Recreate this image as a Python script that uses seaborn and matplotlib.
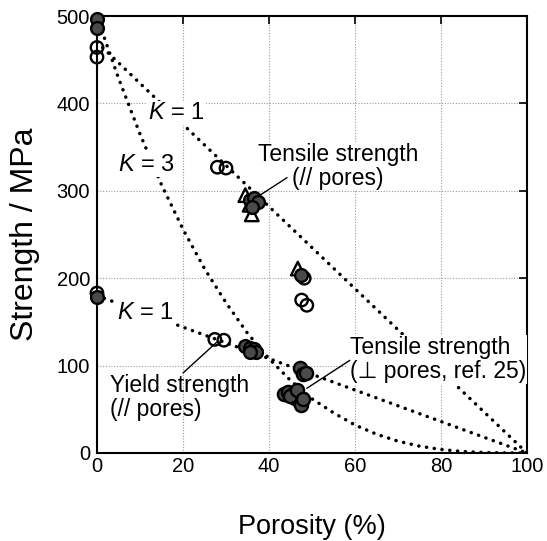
import matplotlib
matplotlib.use("Agg")
import matplotlib.pyplot as plt
import seaborn as sns
import pandas as pd

# ---------------- data ----------------
# model curves
k1_top_x = [0, 100]
k1_top_y = [470, 0]
k1_low_x = [0, 100]
k1_low_y = [180, 0]
k3_x = [0, 2, 5, 10, 15, 20, 25, 30, 35, 40, 45, 50, 55, 60, 65, 70, 75, 80, 85, 90, 95, 100]
k3_y = [500, 471, 429, 365, 307, 256, 211, 172, 137, 108, 83, 62, 46, 32, 21.5, 13.5, 7.8, 4, 1.7, 0.5, 0.1, 0]

# tensile strength, // pores
tp_circ_x = [0, 0, 28, 30, 48.2, 47.6, 48.8]
tp_circ_y = [464, 453, 327, 326, 200, 175, 169]
tp_tri_x = [34.5, 36.0, 35.5, 46.7]
tp_tri_y = [295, 273, 284, 211]
tp_fill_x = [0, 0, 35.5, 36.5, 37.5, 36.0, 47.5]
tp_fill_y = [497, 486, 290, 292, 287, 282, 204]

# yield strength, // pores
ys_circ_x = [0, 27.4, 29.5]
ys_circ_y = [183, 130, 129]
ys_fill_x = [0, 34.5, 35.5, 36.5, 37.0, 35.5]
ys_fill_y = [179, 122, 120, 119, 116, 115]

# tensile strength, perpendicular pores (ref. 25)
tperp_x = [47.2, 48.0, 48.5, 43.5, 44.5, 45.5, 46.0, 47.0, 47.5, 45.0, 46.5, 48.0]
tperp_y = [97, 90, 92, 67, 70, 68, 63, 60, 55, 65, 72, 62]

x_ticks = [0, 20, 40, 60, 80, 100]
y_ticks = [0, 100, 200, 300, 400, 500]

# ---------------- style ----------------
sns.set_theme(style="white")
plt.rcParams['font.family'] = ['Liberation Sans', 'DejaVu Sans']
plt.rcParams['mathtext.fontset'] = 'custom'
plt.rcParams['mathtext.it'] = 'Liberation Sans:italic'
plt.rcParams['mathtext.rm'] = 'Liberation Sans'

fig = plt.figure(figsize=(5.47, 5.41), dpi=100)
ax = fig.add_axes([0.1773, 0.1627, 0.9634 - 0.1773, 0.9704 - 0.1627])

dot = dict(linestyle=(0, (0.05, 2.2)), dash_capstyle='round', linewidth=2.5, color='black')
for xs, ys in [(k1_top_x, k1_top_y), (k1_low_x, k1_low_y), (k3_x, k3_y)]:
    sns.lineplot(x=xs, y=ys, ax=ax, sort=False, estimator=None, zorder=2, **dot)

mk = dict(ax=ax, zorder=5, clip_on=False, legend=False)
def scat(xs, ys, marker, fc, s):
    sns.scatterplot(x=xs, y=ys, marker=marker, s=s, facecolor=fc,
                    edgecolor='black', linewidth=1.7, **mk)
    for c in ax.collections:
        c.set_clip_on(False)

scat(tp_circ_x, tp_circ_y, 'o', 'none', 80)
scat(tp_tri_x, tp_tri_y, '^', 'none', 95)
scat(tp_fill_x, tp_fill_y, 'o', '#4a4a4a', 85)
scat(ys_circ_x, ys_circ_y, 'o', 'none', 80)
scat(ys_fill_x, ys_fill_y, 'o', '#4a4a4a', 85)
scat(tperp_x, tperp_y, 'o', '#4a4a4a', 90)

ax.set_xlim(0, 100)
ax.set_ylim(0, 500)
ax.set_xticks(x_ticks)
ax.set_yticks(y_ticks)
ax.grid(True, linestyle=(0, (1, 1.5)), color='#999999', linewidth=0.8)
ax.set_axisbelow(True)
for sp in ax.spines.values():
    sp.set_visible(True)
    sp.set_color('black')
    sp.set_linewidth(1.5)
ax.tick_params(direction='in', length=6, width=1.2, top=True, right=True,
               labelsize=14.5, colors='black')
ax.tick_params(axis='x', pad=3)
ax.tick_params(axis='y', pad=5)
ax.set_xlabel('Porosity (%)', fontsize=19.5, labelpad=27, color='black')
ax.set_ylabel('Strength / MPa', fontsize=23, labelpad=12, color='black')

box = dict(facecolor='white', edgecolor='none', pad=1.0)
tk = dict(fontsize=17, color='black', va='center', ha='left', zorder=4)
ax.text(11.9, 389, r'$K$ = 1', bbox=box, **tk)
ax.text(4.9, 330, r'$K$ = 3', bbox=box, **tk)
ax.text(4.7, 160, r'$K$ = 1', bbox=box, **tk)

lab = dict(fontsize=16.5, color='black', va='center', zorder=4, linespacing=1.05)
ax.text(56, 328, 'Tensile strength\n(// pores)', ha='center', bbox=dict(facecolor='white', edgecolor='none', pad=0.5), **lab)
ax.text(3, 63, 'Yield strength\n(// pores)', ha='left', **lab)
ax.text(58.8, 107, 'Tensile strength\n(\u22a5 pores, ref. 25)', ha='left',
        bbox=dict(facecolor='white', edgecolor='none', pad=1.0), **lab)

ln = dict(color='black', linewidth=1.0, zorder=4)
ax.plot([44.2, 37.9], [315, 295], **ln)
ax.plot([20, 27.9], [91.5, 127], **ln)
ax.plot([58.8, 48.8], [106, 74], **ln)

fig.savefig('out.png', dpi=100)
